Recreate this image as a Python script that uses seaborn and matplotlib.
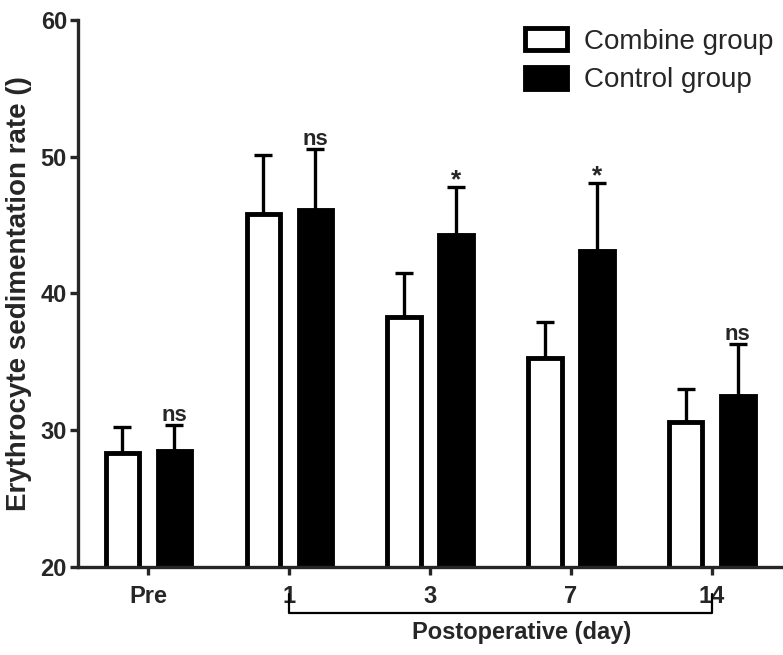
import pandas as pd
import matplotlib
matplotlib.use("Agg")
import matplotlib.pyplot as plt
import seaborn as sns

sns.set_style("ticks")
plt.rcParams['font.family'] = ['Liberation Sans', 'DejaVu Sans']

# Dados (média e desvio padrão, só a barra de erro superior)
days = ["Pre", "1", "3", "7", "14"]
groups = ["Combine group", "Control group"]
combine_mean = [28.3, 45.8, 38.3, 35.3, 30.6]
combine_sd = [1.9, 4.3, 3.2, 2.6, 2.4]
control_mean = [28.5, 46.1, 44.3, 43.1, 32.5]
control_sd = [1.9, 4.5, 3.5, 5.0, 3.8]
marks = ["ns", "ns", "*", "*", "ns"]

df = pd.DataFrame({
    "day": days * 2,
    "group": [groups[0]] * len(days) + [groups[1]] * len(days),
    "value": combine_mean + control_mean,
})

fig, ax = plt.subplots(figsize=(7.83, 6.55), dpi=100)
fig.subplots_adjust(left=0.0996, right=0.999, bottom=0.1344, top=0.9695)

sns.barplot(data=df, x="day", y="value", hue="group", order=days, hue_order=groups,
            palette=["white", "black"], edgecolor="black", linewidth=3.5,
            width=0.74, gap=0.36, errorbar=None, ax=ax, zorder=2)

# Barras de erro (só para cima)
for cont, sds in zip(ax.containers, [combine_sd, control_sd]):
    for bar, sd in zip(cont, sds):
        x = bar.get_x() + bar.get_width() / 2
        y = bar.get_height()
        ax.errorbar(x, y, yerr=[[0], [sd]], fmt="none", ecolor="black",
                    elinewidth=2.4, capsize=6.5, capthick=2.4, zorder=1)

# Marcas de significância sobre o grupo controle
for bar, sd, m in zip(ax.containers[1], control_sd, marks):
    x = bar.get_x() + bar.get_width() / 2
    top = bar.get_height() + sd
    if m == "*":
        ax.annotate(m, (x, top), xytext=(0, -4), textcoords="offset points",
                    ha="center", va="bottom", fontsize=19, fontweight="bold")
    else:
        ax.annotate(m, (x, top), xytext=(0, -1), textcoords="offset points",
                    ha="center", va="bottom", fontsize=16, fontweight="bold")

ax.set_xlim(-0.5, 4.5)
ax.set_ylim(20, 60)
ax.set_yticks([20, 30, 40, 50, 60])
ax.set_xlabel("")
ax.set_ylabel("Erythrocyte sedimentation rate ()", fontsize=20, fontweight="bold", labelpad=6)

sns.despine(ax=ax)
for s in ["left", "bottom"]:
    ax.spines[s].set_linewidth(2.4)
ax.tick_params(axis="both", width=2.4, length=6, labelsize=17)
ax.tick_params(axis="y", pad=2)
ax.tick_params(axis="x", pad=7)
for lab in ax.get_xticklabels() + ax.get_yticklabels():
    lab.set_fontweight("bold")

# Chave "Postoperative (day)"
trans = ax.get_xaxis_transform()
ax.plot([1, 1, 4, 4], [-0.05, -0.084, -0.084, -0.05], transform=trans,
        color="black", lw=1.6, clip_on=False)
ax.text(2.65, -0.12, "Postoperative (day)", transform=trans, ha="center", va="center",
        fontsize=17, fontweight="bold")

handles, labels = ax.get_legend_handles_labels()
ax.legend(handles, labels, loc="upper left", bbox_to_anchor=(0.635, 0.985), frameon=False,
          fontsize=20, handlelength=1.5, handleheight=0.85, handletextpad=0.6,
          labelspacing=0.42, borderpad=0, borderaxespad=0)

fig.savefig("out.png", dpi=100)
